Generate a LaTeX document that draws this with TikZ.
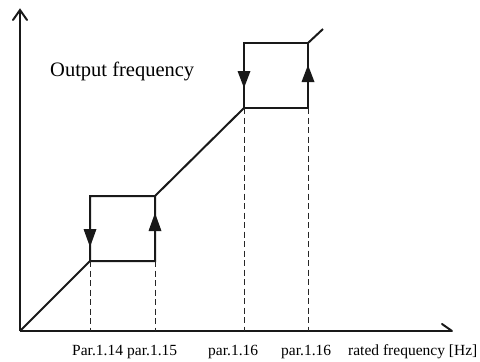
\documentclass[tikz,border=0pt]{standalone}
\usepackage{fontspec}
\setmainfont{Liberation Serif}
\usetikzlibrary{calc}
\begin{document}
\begin{tikzpicture}[x=1pt,y=-1pt,
  solidline/.style={line width=2pt,black!90},
  barb/.style={line width=2pt,black!90,line cap=round,line join=miter},
  dashline/.style={line width=0.9pt,black!85,dash pattern=on 6pt off 3.5pt},
  flowhead/.style={fill=black!90,draw=none},
  lbl/.style={inner sep=0pt,anchor=base west,font=\fontsize{15.5}{18}\selectfont}]
\useasboundingbox (0,0) rectangle (480,362);
% key points
\coordinate (O) at (20,331);
\coordinate (ytop) at (20,10);
\coordinate (xend) at (452,331);
\coordinate (a1) at (90,261);   % box 1 lower-left
\coordinate (b1) at (90,196);   % box 1 upper-left
\coordinate (c1) at (155,196);  % box 1 upper-right
\coordinate (d1) at (155,261);  % box 1 lower-right
\coordinate (a2) at (244,108);
\coordinate (b2) at (244,43);
\coordinate (c2) at (308,43);
\coordinate (d2) at (308,108);
\coordinate (lend) at (323,29);
% axes
\draw[solidline] (O) -- (ytop);
\draw[barb] ($(ytop)+(-7,10)$) -- (ytop) -- ($(ytop)+(7,10)$);
\draw[solidline] (O) -- (xend);
\draw[barb] ($(xend)+(-10,-7)$) -- (xend);
% characteristic
\draw[solidline,line join=miter] (O) -- (a1) -- (d1) -- (c1) -- (b1) -- (a1);
\draw[solidline] (c1) -- (a2);
\draw[solidline,line join=miter] (a2) -- (d2) -- (c2) -- (b2) -- (a2);
\draw[solidline] (c2) -- (lend);
% direction arrows (filled triangles)
\fill[flowhead] (83.5,229) -- (96.5,229) -- (90,247) -- cycle;
\fill[flowhead] (148.5,231) -- (161.5,231) -- (155,213) -- cycle;
\fill[flowhead] (237.5,71) -- (250.5,71) -- (244,88) -- cycle;
\fill[flowhead] (301.5,82) -- (314.5,82) -- (308,65) -- cycle;
% dashed drop lines
\draw[dashline] (a1) -- (a1 |- O);
\draw[dashline] (d1) -- (d1 |- O);
\draw[dashline] (a2) -- (a2 |- O);
\draw[dashline] (d2) -- (d2 |- O);
% labels
\node[inner sep=0pt,anchor=base west,font=\fontsize{20.5}{24}\selectfont] (title) at (50,76) {Output frequency};
\node[lbl] (p14) at (72,355) {Par.1.14};
\node[lbl] (p15) at (127,355) {par.1.15};
\node[lbl] (p16a) at (208,355) {par.1.16};
\node[lbl] (p16b) at (281,355) {par.1.16};
\node[lbl] (rated) at (348,355) {rated frequency [Hz]};
\end{tikzpicture}
\end{document}
